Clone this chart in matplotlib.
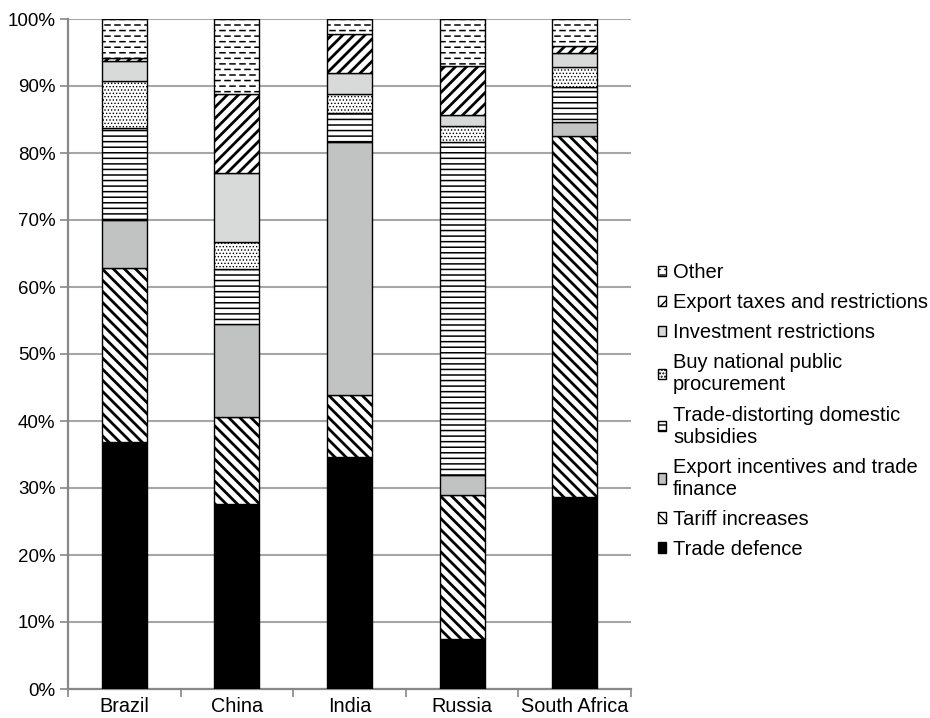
import numpy as np
import matplotlib
matplotlib.use("Agg")
import matplotlib.pyplot as plt
from matplotlib import hatch as mhatch
from matplotlib.path import Path
from matplotlib.ticker import FixedLocator, PercentFormatter

# data (share of measures, %)
countries = ["Brazil", "China", "India", "Russia", "South Africa"]
series = ["Trade defence", "Tariff increases", "Export incentives and trade\nfinance",
          "Trade-distorting domestic\nsubsidies", "Buy national public\nprocurement",
          "Investment restrictions", "Export taxes and restrictions", "Other"]
trade_defence = [36.8, 27.6, 34.6, 7.5, 28.7]
tariff_increases = [26.0, 13.0, 9.3, 21.5, 53.9]
export_incentives = [7.2, 13.9, 37.8, 3.0, 2.1]
domestic_subsidies = [13.7, 8.2, 4.3, 49.7, 5.1]
buy_national = [7.1, 4.0, 2.8, 2.4, 3.0]
investment = [2.9, 10.3, 3.2, 1.6, 2.1]
export_taxes = [0.5, 11.8, 5.8, 7.3, 1.1]
other = [5.8, 11.2, 2.2, 7.0, 4.0]
values = [trade_defence, tariff_increases, export_incentives, domestic_subsidies,
          buy_national, investment, export_taxes, other]


# dashed-row hatch for "Other" (takes over the '|' symbol)
class DashRows(mhatch.HatchPatternBase):
    def __init__(self, hatch, density):
        self.num_rows = hatch.count('|') * density
        self.num_cols = 10
        self.num_vertices = self.num_rows * self.num_cols * 2

    def set_vertices_and_codes(self, vertices, codes):
        k = 0
        for i in range(self.num_rows):
            y = (i + 0.5) / self.num_rows
            off = (i % 2) * 0.5 / self.num_cols
            for j in range(self.num_cols):
                x0 = j / self.num_cols + off
                vertices[k] = (x0, y)
                vertices[k + 1] = (x0 + 0.5 / self.num_cols, y)
                codes[k] = Path.MOVETO
                codes[k + 1] = Path.LINETO
                k += 2


mhatch._hatch_types[mhatch._hatch_types.index(mhatch.VerticalHatch)] = DashRows

plt.rcParams['font.family'] = ['Liberation Sans', 'DejaVu Sans']
plt.rcParams['hatch.color'] = 'black'

# fill, hatch, hatch width per series
styles = [("black", None, 1.0),
          ("white", "\\\\\\", 2.0),
          ("#c1c2c2", None, 1.0),
          ("white", "---", 1.1),
          ("white", ".....", 0.6),
          ("#d8d9d9", None, 1.0),
          ("white", "///", 2.0),
          ("white", "|||", 1.1)]

fig = plt.figure(figsize=(9.30, 7.18), dpi=100)
ax = fig.add_axes([68 / 930, 29 / 718, 563 / 930, 670 / 718])

x = np.arange(len(countries))
bottom = np.zeros(len(countries))
handles = []
for name, vals, (fc, h, lw) in zip(series, values, styles):
    with plt.rc_context({'hatch.linewidth': lw}):
        b = ax.bar(x, vals, 0.4, bottom=bottom, color=fc, edgecolor="black",
                   linewidth=1.0, hatch=h, label=name, zorder=3)
    handles.append(b)
    bottom += np.array(vals)

ax.set_xlim(-0.5, len(countries) - 0.5)
ax.set_ylim(0, 100)
ax.yaxis.set_major_locator(FixedLocator(np.arange(0, 101, 10)))
ax.yaxis.set_major_formatter(PercentFormatter(decimals=0))
ax.set_xticks(x)
ax.set_xticklabels(countries)
ax.xaxis.set_minor_locator(FixedLocator(np.arange(-0.5, len(countries), 1)))
ax.tick_params(axis='x', which='major', length=0, labelsize=14.3, pad=6)
ax.tick_params(axis='x', which='minor', length=6, width=1.2, color="#888888")
ax.tick_params(axis='y', length=6, width=1.2, color="#888888", labelsize=13.5, pad=3)
ax.grid(axis='y', color="#a6a6a6", linewidth=1.5, zorder=0)
ax.set_axisbelow(True)
for s in ["top", "right"]:
    ax.spines[s].set_visible(False)
for s in ["left", "bottom"]:
    ax.spines[s].set_color("#888888")
    ax.spines[s].set_linewidth(1.6)

leg = fig.legend(handles[::-1], series[::-1], loc="center left",
                 bbox_to_anchor=(658 / 930, 1 - 411 / 718), frameon=False,
                 fontsize=14.5, handlelength=0.4, handleheight=0.4,
                 handletextpad=0.35, labelspacing=0.55, borderaxespad=0,
                 borderpad=0)

fig.savefig("out.png", dpi=100)
